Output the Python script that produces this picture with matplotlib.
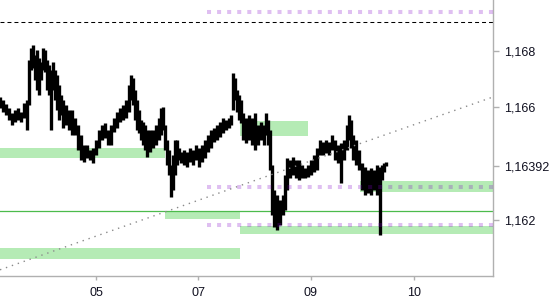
import matplotlib
matplotlib.use("Agg")
import matplotlib.pyplot as plt
from matplotlib.ticker import FuncFormatter

SAVE_FIG = "out.png"

plt.rcParams["font.family"] = ["Liberation Sans", "DejaVu Sans"]

# time axis (bar index) and day labels
X_MIN, X_MAX = 0, 493
DAY_TICKS = [96, 198, 311, 414]
DAY_LABELS = ["05", "07", "09", "10"]

# price axis
PRICE_MIN, PRICE_MAX = 1.16002, 1.16981
PRICE_TICKS = [1.162, 1.166, 1.168]
LAST_PRICE = 1.16392

# price bars
BAR_T = [0, 3, 6, 9, 12, 15, 18, 21, 24, 27, 29, 31, 33, 35, 37, 39, 41, 43, 45, 47,
         49, 51, 53, 55, 57, 59, 61, 63, 66, 69, 72, 75, 78, 81, 84, 87, 90, 93, 96, 99,
         102, 105, 108, 111, 114, 117, 120, 123, 126, 129, 131, 133, 135, 137, 139, 141,
         143, 145, 147, 150, 153, 156, 159, 161, 163, 165, 167, 169, 171, 173, 175, 177,
         179, 181, 184, 187, 190, 193, 196, 199, 202, 205, 208, 211, 214, 217, 220, 223,
         226, 229, 231, 233, 235, 237, 239, 241, 243, 246, 249, 252, 255, 258, 261, 264,
         266, 268, 270, 272, 274, 277, 280, 283, 285, 287, 290, 293, 296, 299, 302, 305,
         308, 311, 314, 317, 320, 323, 326, 329, 332, 335, 338, 341, 344, 347, 349, 351,
         353, 356, 359, 362, 365, 368, 371, 374, 377, 380, 382, 384, 386]
BAR_HIGH = [1.16637, 1.16626, 1.16612, 1.16598, 1.16580, 1.16591, 1.16598, 1.16584, 1.16616, 1.16626,
            1.16768, 1.16811, 1.16821, 1.16786, 1.16804, 1.16775, 1.16761, 1.16811, 1.16804, 1.16768,
            1.16751, 1.16733, 1.16761, 1.16733, 1.16715, 1.16680, 1.16644, 1.16626, 1.16609, 1.16591,
            1.16591, 1.16563, 1.16538, 1.16502, 1.16467, 1.16467, 1.16449, 1.16456, 1.16485, 1.16520,
            1.16538, 1.16545, 1.16520, 1.16538, 1.16563, 1.16584, 1.16598, 1.16609, 1.16626, 1.16680,
            1.16715, 1.16704, 1.16662, 1.16626, 1.16591, 1.16555, 1.16548, 1.16538, 1.16520, 1.16520,
            1.16520, 1.16538, 1.16563, 1.16598, 1.16602, 1.16538, 1.16485, 1.16449, 1.16396, 1.16431,
            1.16485, 1.16485, 1.16456, 1.16442, 1.16449, 1.16442, 1.16456, 1.16449, 1.16467, 1.16456,
            1.16467, 1.16485, 1.16502, 1.16520, 1.16527, 1.16538, 1.16548, 1.16563, 1.16555, 1.16563,
            1.16573, 1.16722, 1.16704, 1.16662, 1.16644, 1.16626, 1.16580, 1.16563, 1.16573, 1.16563,
            1.16580, 1.16538, 1.16548, 1.16538, 1.16580, 1.16555, 1.16520, 1.16396, 1.16307, 1.16290,
            1.16272, 1.16290, 1.16360, 1.16421, 1.16414, 1.16424, 1.16414, 1.16414, 1.16396, 1.16385,
            1.16396, 1.16414, 1.16431, 1.16456, 1.16485, 1.16477, 1.16485, 1.16477, 1.16502, 1.16485,
            1.16467, 1.16474, 1.16485, 1.16538, 1.16573, 1.16555, 1.16502, 1.16485, 1.16449, 1.16403,
            1.16389, 1.16378, 1.16385, 1.16378, 1.16396, 1.16389, 1.16396, 1.16403, 1.16407]
BAR_LOW = [1.16598, 1.16584, 1.16573, 1.16555, 1.16538, 1.16548, 1.16555, 1.16548, 1.16563, 1.16520,
           1.16609, 1.16733, 1.16740, 1.16697, 1.16662, 1.16644, 1.16697, 1.16733, 1.16726, 1.16662,
           1.16644, 1.16520, 1.16662, 1.16626, 1.16591, 1.16555, 1.16573, 1.16527, 1.16538, 1.16520,
           1.16502, 1.16502, 1.16449, 1.16414, 1.16407, 1.16421, 1.16414, 1.16403, 1.16431, 1.16456,
           1.16485, 1.16492, 1.16467, 1.16467, 1.16513, 1.16527, 1.16548, 1.16555, 1.16563, 1.16584,
           1.16626, 1.16609, 1.16555, 1.16520, 1.16509, 1.16485, 1.16467, 1.16449, 1.16424, 1.16442,
           1.16456, 1.16467, 1.16485, 1.16502, 1.16520, 1.16449, 1.16396, 1.16360, 1.16282, 1.16307,
           1.16360, 1.16396, 1.16414, 1.16403, 1.16396, 1.16389, 1.16407, 1.16396, 1.16414, 1.16389,
           1.16407, 1.16421, 1.16442, 1.16456, 1.16477, 1.16485, 1.16495, 1.16509, 1.16520, 1.16527,
           1.16538, 1.16591, 1.16626, 1.16584, 1.16555, 1.16545, 1.16485, 1.16474, 1.16485, 1.16467,
           1.16449, 1.16467, 1.16485, 1.16467, 1.16502, 1.16467, 1.16378, 1.16219, 1.16176, 1.16165,
           1.16183, 1.16219, 1.16236, 1.16307, 1.16350, 1.16360, 1.16350, 1.16343, 1.16350, 1.16350,
           1.16353, 1.16360, 1.16371, 1.16378, 1.16431, 1.16431, 1.16438, 1.16431, 1.16449, 1.16414,
           1.16403, 1.16332, 1.16414, 1.16449, 1.16485, 1.16456, 1.16414, 1.16396, 1.16378, 1.16307,
           1.16290, 1.16297, 1.16290, 1.16307, 1.16290, 1.16148, 1.16343, 1.16371, 1.16392]

# supply / demand zones
ZONE_START = [0, 240, 360, 165, 240, 0]
ZONE_END = [165, 308, 493, 240, 493, 240]
ZONE_TOP = [1.16456, 1.16552, 1.16339, 1.16233, 1.16180, 1.16101]
ZONE_BOTTOM = [1.16421, 1.16498, 1.16301, 1.16205, 1.16151, 1.16063]

# levels
LEVEL_START = 207
LEVELS_PURPLE = [1.16939, 1.16318, 1.16183]
LEVEL_DASHED = 1.16903
LEVEL_GREEN = 1.16233

# trend line
TREND_T = [0, 493]
TREND_P = [1.16024, 1.16637]

# colors
ZONE_COLOR = "#b5ebb5"
PURPLE = "#8000c8"
AXIS_COLOR = "#b0b0b0"
TEXT_COLOR = "#101020"

fig = plt.figure(figsize=(5.5, 3.0), dpi=100)
ax = fig.add_axes([0, 24 / 300, 493 / 550, 276 / 300])

# zones
for x0, x1, lo, hi in zip(ZONE_START, ZONE_END, ZONE_BOTTOM, ZONE_TOP):
    ax.fill_between([x0, x1], lo, hi, color=ZONE_COLOR, lw=0, zorder=1)

ax.axhline(LEVEL_GREEN, color="#4cbb4c", lw=0.9, zorder=2)
ax.axhline(LEVEL_DASHED, color="black", lw=0.75, ls=(0, (3.8, 2.9)), zorder=2)

# price
ax.vlines(BAR_T, BAR_LOW, BAR_HIGH, color="black", lw=2.4, zorder=3)

# purple dotted levels (semi transparent, over price)
for lvl in LEVELS_PURPLE:
    ax.plot([LEVEL_START, X_MAX], [lvl, lvl], color=PURPLE, alpha=0.25,
            lw=2.9, ls=(0, (1, 1.5)), zorder=4)

ax.plot(TREND_T, TREND_P, color="#8a8a8a", lw=1.0, ls=(0, (1, 3.5)), zorder=4)

ax.set_xlim(X_MIN, X_MAX)
ax.set_ylim(PRICE_MIN, PRICE_MAX)

# axes style
for side in ["left", "top"]:
    ax.spines[side].set_visible(False)
for side in ["right", "bottom"]:
    ax.spines[side].set_color(AXIS_COLOR)
    ax.spines[side].set_linewidth(1.0)

ax.yaxis.tick_right()
y_ticks = PRICE_TICKS + [LAST_PRICE]
ax.set_yticks(y_ticks)
ax.yaxis.set_major_formatter(FuncFormatter(
    lambda v, pos: ("%.5f" % v if abs(v - LAST_PRICE) < 1e-7 else "%.3f" % v).replace(".", ",")))
ax.tick_params(axis="y", length=4.5, width=1, color=AXIS_COLOR, pad=3.5,
               labelsize=9, labelcolor=TEXT_COLOR)
for t in ax.yaxis.get_major_ticks():
    if abs(t.get_loc() - LAST_PRICE) < 1e-7:
        t.tick2line.set_color("black")
        t.label2.set_bbox(dict(boxstyle="square,pad=0.3", facecolor="#ffc814",
                               edgecolor="#a8a8a8", lw=1))

ax.set_xticks(DAY_TICKS)
ax.set_xticklabels(DAY_LABELS)
ax.tick_params(axis="x", length=3, width=1, color=AXIS_COLOR, pad=5,
               labelsize=9, labelcolor=TEXT_COLOR)

fig.savefig(SAVE_FIG, dpi=100)
